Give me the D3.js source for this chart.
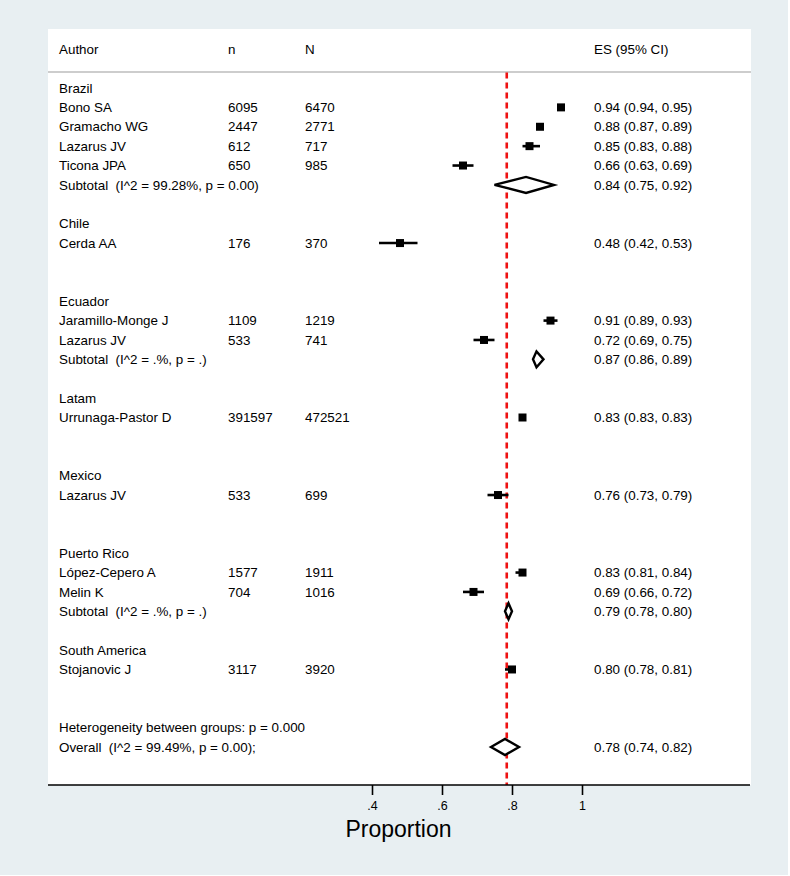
<!DOCTYPE html>
<html>
<head>
<meta charset="utf-8">
<script src="https://cdn.jsdelivr.net/npm/d3@7/dist/d3.min.js"></script>
<style>
  html, body { margin: 0; padding: 0; background: #ffffff; }
  svg text { font-family: "Liberation Sans", Arial, Helvetica, sans-serif; white-space: pre; }
</style>
</head>
<body>
<script>
// ---------------- data ----------------
const groups = ["Brazil", "Chile", "Ecuador", "Latam", "Mexico", "Puerto Rico", "South America"];

const authors = ["Bono SA", "Gramacho WG", "Lazarus JV", "Ticona JPA",
                 "Cerda AA",
                 "Jaramillo-Monge J", "Lazarus JV",
                 "Urrunaga-Pastor D",
                 "Lazarus JV",
                 "López-Cepero A", "Melin K",
                 "Stojanovic J"];
const studyGroup = ["Brazil", "Brazil", "Brazil", "Brazil",
                    "Chile",
                    "Ecuador", "Ecuador",
                    "Latam",
                    "Mexico",
                    "Puerto Rico", "Puerto Rico",
                    "South America"];
const nVals = [6095, 2447, 612, 650, 176, 1109, 533, 391597, 533, 1577, 704, 3117];
const NVals = [6470, 2771, 717, 985, 370, 1219, 741, 472521, 699, 1911, 1016, 3920];
const esVals = [0.94, 0.88, 0.85, 0.66, 0.48, 0.91, 0.72, 0.83, 0.76, 0.83, 0.69, 0.80];
const loVals = [0.94, 0.87, 0.83, 0.63, 0.42, 0.89, 0.69, 0.83, 0.73, 0.81, 0.66, 0.78];
const hiVals = [0.95, 0.89, 0.88, 0.69, 0.53, 0.93, 0.75, 0.83, 0.79, 0.84, 0.72, 0.81];

const subGroups = ["Brazil", "Ecuador", "Puerto Rico"];
const subHet = ["(I^2 = 99.28%, p = 0.00)", "(I^2 = .%, p = .)", "(I^2 = .%, p = .)"];
const subES = [0.84, 0.87, 0.79];
const subLo = [0.75, 0.86, 0.78];
const subHi = [0.92, 0.89, 0.80];

const hetBetweenText = "Heterogeneity between groups: p = 0.000";
const overallHet = "(I^2 = 99.49%, p = 0.00);";
const overallES = 0.78, overallLo = 0.74, overallHi = 0.82;
const refLineValue = 0.785;

const tickValues = [0.4, 0.6, 0.8, 1];
const tickLabels = [".4", ".6", ".8", "1"];
const headers = ["Author", "n", "N", "ES (95% CI)"];
const axisTitle = "Proportion";

// ---------------- layout ----------------
const W = 790, H = 876;
const panel = { x0: 48, x1: 751, y0: 29, y1: 785 };
const colX = { author: 59, n: 228, N: 305, es: 594 };
const fs = 13.4;
const fmt = d3.format(".2f");
const ci = (e, l, h) => `${fmt(e)} (${fmt(l)}, ${fmt(h)})`;

// build row list
const rows = [];
groups.forEach(g => {
  rows.push({ type: "title", label: g });
  authors.forEach((a, i) => {
    if (studyGroup[i] === g) rows.push({ type: "study", i });
  });
  const si = subGroups.indexOf(g);
  rows.push(si >= 0 ? { type: "sub", si } : { type: "blank" });
  rows.push({ type: "blank" });
});
rows.push({ type: "het" });
rows.push({ type: "overall" });

const x = d3.scaleLinear().domain([0.4, 1]).range([372, 582]);
const y = d3.scaleLinear().domain([0, rows.length - 1]).range([88, 747]);

const svg = d3.select("body").append("svg")
  .attr("width", W).attr("height", H);

svg.append("rect").attr("x", 0).attr("y", 0).attr("width", 788).attr("height", 875)
  .attr("fill", "#e8eff2");
svg.append("rect").attr("x", panel.x0).attr("y", panel.y0)
  .attr("width", panel.x1 - panel.x0).attr("height", panel.y1 - panel.y0)
  .attr("fill", "#ffffff");

// header
const headerY = 54;
[[headers[0], colX.author], [headers[1], colX.n], [headers[2], colX.N], [headers[3], colX.es]]
  .forEach(([t, xx]) => {
    svg.append("text").attr("x", xx).attr("y", headerY).attr("font-size", fs)
      .attr("fill", "#000").text(t);
  });
svg.append("line").attr("x1", panel.x0).attr("x2", panel.x1).attr("y1", 72).attr("y2", 72)
  .attr("stroke", "#bdbdbd").attr("stroke-width", 1.5);

// reference line
svg.append("line").attr("x1", x(refLineValue)).attr("x2", x(refLineValue))
  .attr("y1", 72.5).attr("y2", panel.y1)
  .attr("stroke", "#ee1111").attr("stroke-width", 2.6)
  .attr("stroke-dasharray", "6,4");

const base = 4.7;
function txt(xx, yy, t) {
  svg.append("text").attr("x", xx).attr("y", yy + base).attr("font-size", fs)
    .attr("fill", "#000").text(t);
}
function diamond(e, l, h, yy) {
  const hh = 8;
  svg.append("path")
    .attr("d", `M${x(l)},${yy} L${x(e)},${yy - hh} L${x(h)},${yy} L${x(e)},${yy + hh} Z`)
    .attr("fill", "#fff").attr("stroke", "#000").attr("stroke-width", 2.4)
    .attr("stroke-linejoin", "miter");
}

rows.forEach((r, k) => {
  const yy = y(k);
  if (r.type === "title") {
    txt(colX.author, yy, r.label);
  } else if (r.type === "study") {
    const i = r.i;
    txt(colX.author, yy, authors[i]);
    txt(colX.n, yy, String(nVals[i]));
    txt(colX.N, yy, String(NVals[i]));
    txt(colX.es, yy, ci(esVals[i], loVals[i], hiVals[i]));
    svg.append("line").attr("x1", x(loVals[i])).attr("x2", x(hiVals[i]))
      .attr("y1", yy).attr("y2", yy).attr("stroke", "#000").attr("stroke-width", 2.6);
    const s = 8;
    svg.append("rect").attr("x", x(esVals[i]) - s / 2).attr("y", yy - s / 2)
      .attr("width", s).attr("height", s).attr("fill", "#000");
  } else if (r.type === "sub") {
    const si = r.si;
    txt(colX.author, yy, "Subtotal  " + subHet[si]);
    txt(colX.es, yy, ci(subES[si], subLo[si], subHi[si]));
    diamond(subES[si], subLo[si], subHi[si], yy);
  } else if (r.type === "het") {
    txt(colX.author, yy, hetBetweenText);
  } else if (r.type === "overall") {
    txt(colX.author, yy, "Overall  " + overallHet);
    txt(colX.es, yy, ci(overallES, overallLo, overallHi));
    diamond(overallES, overallLo, overallHi, yy);
  }
});

// axis
svg.append("line").attr("x1", panel.x0).attr("x2", 750).attr("y1", panel.y1).attr("y2", panel.y1)
  .attr("stroke", "#000").attr("stroke-width", 1.6);
const axis = d3.axisBottom(x).tickValues(tickValues)
  .tickFormat((d, i) => tickLabels[i]).tickSize(10).tickPadding(6);
const ag = svg.append("g").attr("transform", `translate(0,${panel.y1})`).call(axis);
ag.select(".domain").remove();
ag.selectAll(".tick line").attr("stroke", "#000").attr("stroke-width", 1.6);
ag.selectAll(".tick text").attr("font-size", 12.5).attr("fill", "#000")
  .attr("font-family", '"Liberation Sans", Arial, sans-serif');

svg.append("text").attr("x", 398.5).attr("y", 837).attr("text-anchor", "middle")
  .attr("font-size", 23).attr("fill", "#000").text(axisTitle);
</script>
</body>
</html>
